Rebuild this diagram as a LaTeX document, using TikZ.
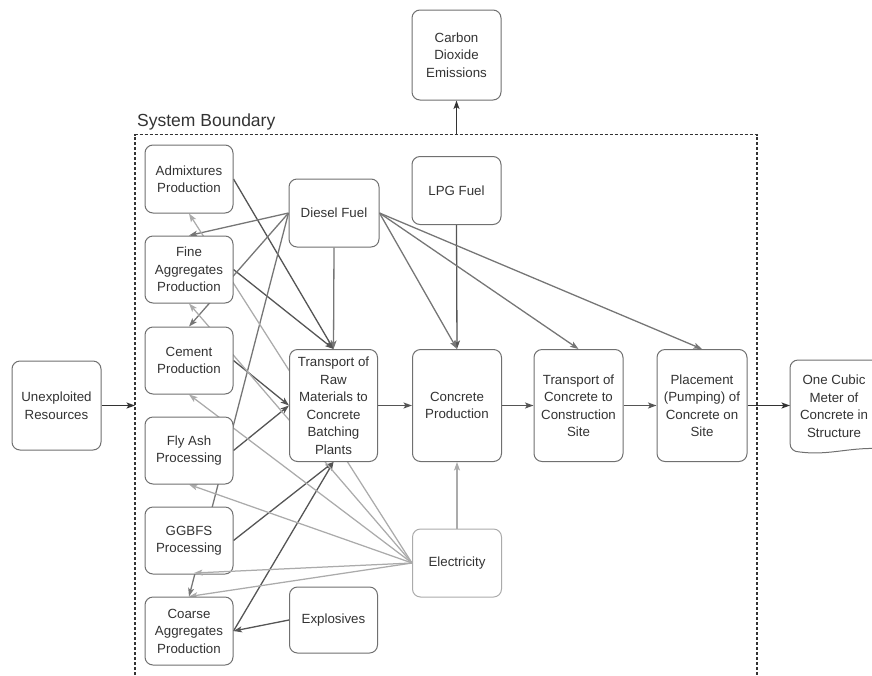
\documentclass[tikz,border=0pt]{standalone}
\usepackage{fontspec}
\setmainfont{Liberation Sans}
\usetikzlibrary{arrows.meta,calc}
\pgfdeclarelayer{background}
\pgfsetlayers{background,main}
\definecolor{boxline}{HTML}{707070}
\definecolor{txt}{HTML}{333333}
\definecolor{darkedge}{HTML}{555555}
\definecolor{midedge}{HTML}{767676}
\definecolor{lightedge}{HTML}{ABABAB}
\definecolor{boundcol}{HTML}{333333}

\tikzset{
  proc/.style={draw=boxline, line width=1pt, rounded corners=8pt, fill=white,
    text=txt, align=center, font=\fontsize{13.3}{17.5}\selectfont, inner sep=2pt,
    minimum width=88pt, minimum height=68pt},
  tall/.style={minimum height=112pt},
  tipped/.style={-{Stealth[length=8.5pt,width=6pt,inset=2pt]}},
  darkarr/.style={tipped, draw=darkedge, line width=1.3pt},
  midarr/.style={tipped, draw=midedge, line width=1.3pt},
  lightarr/.style={tipped, draw=lightedge, line width=1.25pt},
  flowarr/.style={tipped, draw=darkedge, line width=1.4pt},
  bndarr/.style={tipped, draw=boundcol, line width=1.4pt},
}

\begin{document}
\begin{tikzpicture}[x=1pt,y=-1pt]
\useasboundingbox (0,0) rectangle (872,675);
\clip (0,0) rectangle (872,675);

% process boxes
\node[proc, minimum width=89pt, minimum height=90pt] (co2) at (456.5,55) {Carbon\\Dioxide\\Emissions};
\node[proc] (adm) at (189,179) {Admixtures\\Production};
\node[proc, minimum height=67pt] (fine) at (189,269.5) {Fine\\Aggregates\\Production};
\node[proc, minimum height=67pt] (cem) at (189,360.5) {Cement\\Production};
\node[proc, minimum height=67pt] (fly) at (189,450.5) {Fly Ash\\Processing};
\node[proc, minimum height=67pt] (ggbfs) at (189,540.5) {GGBFS\\Processing};
\node[proc] (coarse) at (189,631) {Coarse\\Aggregates\\Production};
\node[proc, minimum width=90pt] (diesel) at (334,213) {Diesel Fuel};
\node[proc, minimum width=89pt] (lpg) at (456.5,190.5) {LPG Fuel};
\node[proc, tall] (trm) at (333.5,405.5) {Transport of\\Raw\\Materials to\\Concrete\\Batching\\Plants};
\node[proc, tall, minimum width=89pt] (cp) at (457,405.5) {Concrete\\Production};
\node[proc, tall, minimum width=89pt] (tcs) at (578.5,405.5) {Transport of\\Concrete to\\Construction\\Site};
\node[proc, tall, minimum width=90pt] (place) at (702,405.5) {Placement\\(Pumping) of\\Concrete on\\Site};
\node[proc, minimum width=89pt, minimum height=89pt] (unexp) at (56.5,405.5) {Unexploited\\Resources};
\node[proc, draw=lightedge, minimum width=89pt] (elec) at (457,563) {Electricity};
\node[proc, minimum height=66pt] (expl) at (333.5,620) {Explosives};

% final product (document shape)
\path[draw=boxline, fill=white, line width=1pt]
  (885,360) -- (798,360) .. controls (793.6,360) and (790,363.6) .. (790,368)
  -- (790,443) .. controls (790,449) and (794,452) .. (800,452)
  .. controls (830,456) and (852,446) .. (885,449) -- cycle;
\node[text=txt, align=center, font=\fontsize{13.3}{17.5}\selectfont] (one) at (834,406) {One Cubic\\Meter of\\Concrete in\\Structure};
\coordinate (onein) at (790,405.5);

% system boundary
\coordinate (bl) at (135,690);
\coordinate (tl) at (135,134.5);
\coordinate (tr) at (757,134.5);
\coordinate (br) at (757,690);
\draw[draw=boundcol, line width=1.2pt, dash pattern=on 3pt off 2pt] (bl) -- (tl) -- (tr) -- (br);
\coordinate (bin) at (135,405.5);
\coordinate (bout) at (456.5,134.5);
\node[anchor=base west, inner sep=0pt, text=txt, font=\fontsize{17.5}{20}\selectfont] (sblabel) at (137,126) {System Boundary};

% material and energy inputs
\begin{pgfonlayer}{background}
  \draw[darkarr] (adm.east) -- (trm.north);
  \draw[darkarr] (fine.east) -- (trm.north);
  \draw[darkarr] (cem.east) -- (trm.west);
  \draw[darkarr] (fly.east) -- (trm.west);
  \draw[darkarr] (ggbfs.east) -- (trm.south);
  \draw[darkarr] (coarse.east) -- (trm.south);
  \draw[darkarr] (expl.west) -- (coarse.east);
  \draw[darkarr] (lpg.south) -- (cp.north);

  \draw[midarr] (diesel.west) -- (fine.north);
  \draw[midarr] (diesel.west) -- (cem.north);
  \draw[midarr] (diesel.west) -- (coarse.north);
  \draw[midarr] (diesel.south) -- (trm.north);
  \draw[midarr] (diesel.east) -- (cp.north);
  \draw[midarr] (diesel.east) -- (tcs.north);
  \draw[midarr] (diesel.east) -- (place.north);

  \draw[lightarr] (elec.west) -- (adm.south);
  \draw[lightarr] (elec.west) -- (fine.south);
  \draw[lightarr] (elec.west) -- (cem.south);
  \draw[lightarr] (elec.west) -- (fly.south);
  \draw[lightarr] (elec.west) -- (coarse.north);
  \draw[lightarr] (elec.north) -- (cp.south);
\end{pgfonlayer}
\coordinate (ggin) at (194,573);
\draw[lightarr] (elec.west) -- (ggin);

% main process chain
\draw[flowarr] (trm.east) -- (cp.west);
\draw[flowarr] (cp.east) -- (tcs.west);
\draw[flowarr] (tcs.east) -- (place.west);
\draw[bndarr] (place.east) -- (onein);
\draw[bndarr] (unexp.east) -- (bin);
\draw[bndarr] (bout) -- (co2.south);
\end{tikzpicture}
\end{document}
